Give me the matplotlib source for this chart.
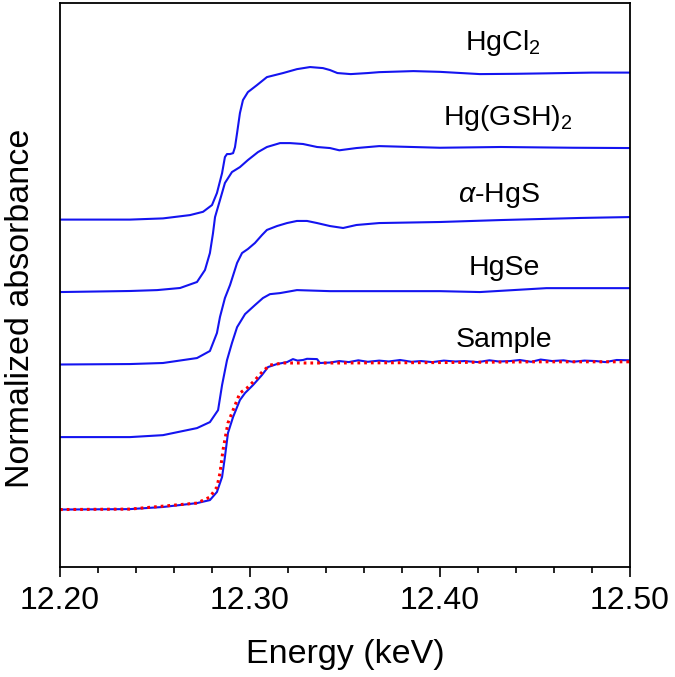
import numpy as np
import matplotlib
matplotlib.use("Agg")
import matplotlib.pyplot as plt
from matplotlib.ticker import MultipleLocator

plt.rcParams['font.family'] = ['Liberation Sans', 'DejaVu Sans']
plt.rcParams['mathtext.fontset'] = 'custom'
plt.rcParams['mathtext.rm'] = 'Liberation Sans'
plt.rcParams['mathtext.it'] = 'Liberation Sans:italic'

# spectra (energy in keV, normalized absorbance)
hgcl2_e = [12.2000, 12.2368, 12.2542, 12.2684, 12.2753, 12.2800, 12.2826, 12.2853, 12.2868, 12.2879,
           12.2895, 12.2911, 12.2921, 12.2932, 12.2947, 12.2963, 12.2989, 12.3037, 12.3089, 12.3174,
           12.3247, 12.3316, 12.3384, 12.3421, 12.3460, 12.3530, 12.3620, 12.3680, 12.3860, 12.4000,
           12.4210, 12.4400, 12.4560, 12.4800, 12.5000]
hgcl2_a = [0.000, 0.000, 0.008, 0.030, 0.052, 0.097, 0.177, 0.310, 0.417, 0.437,
           0.437, 0.443, 0.483, 0.577, 0.710, 0.797, 0.850, 0.897, 0.950, 0.977,
           1.003, 1.017, 1.010, 0.997, 0.977, 0.970, 0.977, 0.983, 0.990, 0.985,
           0.970, 0.972, 0.975, 0.980, 0.980]

gsh_e = [12.2000, 12.2368, 12.2511, 12.2632, 12.2721, 12.2763, 12.2789, 12.2805, 12.2816, 12.2842,
         12.2868, 12.2905, 12.2947, 12.2989, 12.3042, 12.3089, 12.3158, 12.3211, 12.3279, 12.3353,
         12.3421, 12.3470, 12.3560, 12.3680, 12.4000, 12.4320, 12.4700, 12.5000]
gsh_a = [0.000, 0.007, 0.013, 0.027, 0.067, 0.147, 0.260, 0.390, 0.500, 0.613,
         0.727, 0.800, 0.833, 0.880, 0.933, 0.967, 0.993, 0.993, 0.987, 0.967,
         0.960, 0.945, 0.960, 0.973, 0.962, 0.967, 0.962, 0.960]

hgs_e = [12.2000, 12.2368, 12.2542, 12.2721, 12.2789, 12.2826, 12.2842, 12.2868, 12.2895, 12.2932,
         12.2958, 12.2989, 12.3026, 12.3063, 12.3089, 12.3142, 12.3195, 12.3247, 12.3300, 12.3353,
         12.3421, 12.3490, 12.3560, 12.3680, 12.4000, 12.4320, 12.4740, 12.5000]
hgs_a = [0.000, 0.003, 0.010, 0.043, 0.090, 0.210, 0.317, 0.443, 0.530, 0.677,
         0.743, 0.770, 0.810, 0.863, 0.897, 0.923, 0.943, 0.957, 0.957, 0.943,
         0.923, 0.910, 0.930, 0.943, 0.950, 0.963, 0.977, 0.983]

hgse_e = [12.2000, 12.2368, 12.2542, 12.2721, 12.2789, 12.2832, 12.2853, 12.2879, 12.2905, 12.2932,
          12.2974, 12.3026, 12.3068, 12.3105, 12.3158, 12.3247, 12.3421, 12.3680, 12.4000, 12.4210,
          12.4560, 12.5000]
hgse_a = [0.000, 0.000, 0.013, 0.060, 0.100, 0.180, 0.347, 0.513, 0.627, 0.733,
          0.820, 0.880, 0.927, 0.953, 0.960, 0.980, 0.973, 0.973, 0.973, 0.967,
          0.993, 0.993]

sample_e = [12.2000, 12.2368, 12.2542, 12.2721, 12.2789, 12.2826, 12.2853, 12.2868, 12.2884, 12.2911,
            12.2947, 12.2974, 12.3016, 12.3063, 12.3095, 12.3142, 12.3195, 12.3226, 12.3250, 12.3279,
            12.3300, 12.3353, 12.3368, 12.3421, 12.3470, 12.3520, 12.3570, 12.3620, 12.3680, 12.3730,
            12.3790, 12.3850, 12.3900, 12.3960, 12.4020, 12.4080, 12.4130, 12.4200, 12.4260, 12.4310,
            12.4370, 12.4420, 12.4480, 12.4530, 12.4590, 12.4650, 12.4700, 12.4760, 12.4820, 12.4870,
            12.4930, 12.5000]
sample_a = [0.000, 0.003, 0.017, 0.043, 0.063, 0.117, 0.217, 0.350, 0.510, 0.617,
            0.730, 0.777, 0.830, 0.897, 0.950, 0.970, 0.983, 1.003, 0.993, 0.997,
            1.005, 1.003, 0.977, 0.980, 0.990, 0.983, 0.995, 0.985, 0.993, 0.987,
            0.997, 0.985, 0.990, 0.983, 0.993, 0.987, 0.990, 0.983, 0.995, 0.987,
            0.990, 0.997, 0.985, 1.000, 0.990, 0.995, 0.985, 0.993, 0.990, 0.983,
            0.997, 0.995]

fit_e = [12.2000, 12.2368, 12.2721, 12.2789, 12.2826, 12.2842, 12.2858, 12.2884, 12.2911, 12.2947,
         12.2984, 12.3026, 12.3068, 12.3105, 12.3174, 12.3279, 12.3421, 12.4000, 12.4500, 12.5000]
fit_a = [0.000, 0.003, 0.043, 0.083, 0.150, 0.243, 0.397, 0.577, 0.663, 0.777,
         0.810, 0.863, 0.923, 0.963, 0.977, 0.977, 0.977, 0.980, 0.985, 0.985]

names = ['HgCl$_2$', 'Hg(GSH)$_2$', r'$\alpha$-HgS', 'HgSe', 'Sample']
offsets = [1.933, 1.450, 0.967, 0.483, 0.0]
label_y = [3.063, 2.563, 2.050, 1.563, 1.083]
label_x = [12.4329, 12.4355, 12.4310, 12.4337, 12.4337]

blue = '#1414f0'

fig = plt.figure(figsize=(6.75, 6.77), dpi=100)
ax = fig.add_axes([60 / 675, 110 / 677, 570 / 675, 564 / 677])

curves = [(hgcl2_e, hgcl2_a), (gsh_e, gsh_a), (hgs_e, hgs_a), (hgse_e, hgse_a), (sample_e, sample_a)]
for (e, a), off in zip(curves, offsets):
    ax.plot(e, np.array(a) + off, color=blue, lw=1.5, solid_joinstyle='round')

ax.plot(fit_e, fit_a, color='red', lw=2.2, linestyle=(0, (0.9, 1.3)))

for name, lx, ly in zip(names, label_x, label_y):
    ax.text(lx, ly, name, ha='center', va='baseline', fontsize=20.5)

ax.set_xlim(12.2, 12.5)
ax.set_ylim(-0.383, 3.377)
ax.xaxis.set_minor_locator(MultipleLocator(0.02))
ax.set_xticks([12.2, 12.3, 12.4, 12.5])
ax.set_xticklabels(['12.20', '12.30', '12.40', '12.50'])
ax.set_yticks([])
ax.tick_params(axis='x', which='major', direction='out', length=7.5, width=1.2,
               labelsize=23, pad=6)
ax.tick_params(axis='x', which='minor', direction='out', length=4.5, width=1.2)
for sp in ax.spines.values():
    sp.set_linewidth(1.3)

ax.set_xlabel('Energy (keV)', fontsize=24.5, labelpad=17)
fig.text(21 / 675, 1 - 308 / 677, 'Normalized absorbance', rotation=90,
         ha='center', va='center', fontsize=24.5)

fig.savefig('out.png', dpi=100)
